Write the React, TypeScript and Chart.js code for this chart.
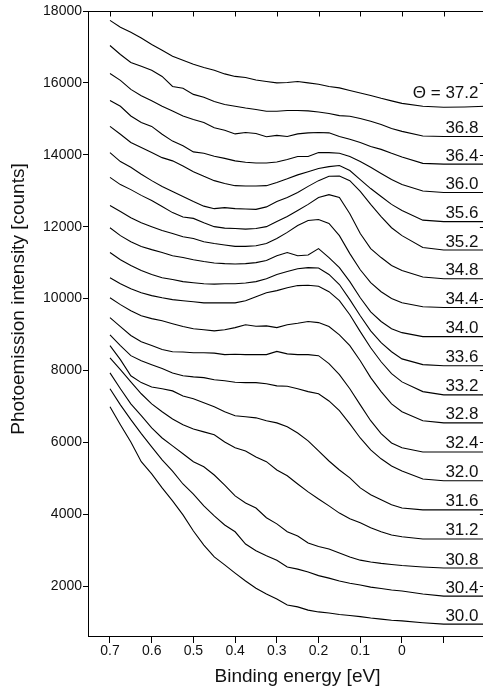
import { useEffect, useRef } from "react";
import { Chart, registerables } from "chart.js";

Chart.register(...registerables);

// Binding energy grid (eV)
const energy = [
  0.7, 0.675, 0.65, 0.625, 0.6, 0.575, 0.55, 0.525, 0.5, 0.475, 0.45, 0.425, 0.4, 0.375, 0.35, 0.325,
  0.3, 0.275, 0.25, 0.225, 0.2, 0.175, 0.15, 0.125, 0.1, 0.075, 0.05, 0.025, 0, -0.05, -0.1, -0.15, -0.2,
];

// Photoemission intensity (counts), one array per emission angle
const theta372 = [17740,17550,17410,17250,17070,16910,16740,16630,16520,16430,16350,16250,16180,16150,16080,16040,16000,16010,16040,16000,15960,15900,15860,15790,15720,15650,15570,15500,15430,15350,15320,15330,15350];
const theta368 = [17040,16790,16570,16460,16350,16180,15900,15850,15680,15600,15480,15400,15350,15300,15260,15210,15210,15230,15230,15220,15190,15150,15090,15070,15010,14930,14840,14730,14650,14520,14510,14510,14510];
const theta364 = [16260,16070,15820,15640,15500,15350,15220,15080,14980,14900,14750,14680,14580,14620,14590,14500,14540,14510,14580,14610,14620,14610,14510,14430,14340,14230,14150,14040,13940,13760,13740,13740,13740];
const theta360 = [15510,15350,15080,14900,14790,14570,14380,14250,14080,14040,13960,13900,13830,13790,13770,13770,13800,13870,13950,13950,14060,14060,14040,13950,13810,13650,13480,13310,13170,12990,12950,12950,12950];
const theta356 = [14790,14570,14340,14200,14060,13920,13830,13690,13530,13400,13280,13200,13140,13130,13130,13140,13230,13330,13440,13530,13620,13670,13700,13560,13310,13060,12840,12620,12450,12180,12140,12140,12140];
const theta352 = [14060,13810,13650,13460,13280,13120,12980,12840,12700,12570,12500,12530,12500,12490,12480,12550,12700,12810,12950,13120,13280,13400,13410,13280,12980,12620,12280,11970,11750,11420,11350,11350,11350];
const theta348 = [13370,13170,13030,12870,12730,12560,12390,12270,12230,12110,12000,11960,11950,11930,11950,12000,12140,12280,12450,12620,12810,12890,12810,12360,11810,11390,11140,10920,10780,10600,10550,10550,10550];
const theta344 = [12590,12420,12250,12110,12000,11890,11810,11720,11670,11580,11530,11490,11450,11450,11470,11530,11670,11840,12030,12170,12200,12090,11750,11250,10800,10440,10190,10000,9880,9770,9750,9750,9750];
const theta340 = [11970,11750,11580,11450,11360,11280,11190,11140,11080,11030,10990,10970,10960,10970,11000,11060,11190,11280,11190,11210,11390,11140,10860,10470,10020,9630,9360,9160,9050,8940,8940,8940,8940];
const theta336 = [11280,11080,10920,10780,10670,10580,10530,10470,10440,10410,10400,10410,10410,10430,10470,10550,10670,10750,10830,10860,10850,10670,10390,9970,9520,9100,8770,8520,8320,8160,8130,8130,8130];
const theta332 = [10580,10410,10270,10160,10080,10020,9970,9940,9910,9880,9880,9880,9880,9940,10050,10160,10220,10300,10360,10370,10340,10190,9940,9550,9080,8630,8240,7910,7680,7410,7320,7320,7320];
const theta328 = [10020,9830,9660,9520,9440,9380,9300,9220,9160,9130,9100,9130,9190,9270,9230,9240,9190,9270,9310,9360,9330,9220,8990,8690,8270,7800,7410,7070,6850,6600,6540,6540,6540];
const theta324 = [9470,9220,8970,8800,8690,8580,8520,8510,8490,8490,8480,8440,8450,8440,8440,8440,8530,8460,8440,8440,8410,8190,7880,7490,7040,6600,6240,5980,5850,5730,5730,5730,5730];
const theta320 = [8990,8690,8410,8270,8160,8050,7930,7850,7820,7800,7740,7710,7670,7660,7660,7630,7570,7560,7490,7410,7350,7150,6880,6510,6120,5790,5540,5340,5200,4980,4930,4930,4930];
const theta316 = [8690,8300,7850,7660,7540,7490,7430,7290,7210,7100,6990,6850,6740,6710,6680,6600,6540,6430,6260,6040,5760,5480,5230,5010,4730,4540,4400,4260,4170,4120,4120,4120,4120];
const theta312 = [8350,8020,7680,7350,7070,6850,6650,6490,6370,6290,6210,6010,5850,5760,5590,5460,5230,5070,4840,4620,4420,4230,4030,3870,3760,3620,3510,3420,3370,3310,3310,3310,3310];
const theta308 = [7930,7490,7070,6740,6400,6120,5900,5680,5460,5320,5090,4810,4510,4310,4170,3900,3730,3510,3390,3200,3100,3030,2920,2810,2720,2670,2630,2600,2570,2530,2500,2500,2500];
const theta304 = [7490,7040,6630,6240,5870,5510,5200,4840,4560,4230,3950,3700,3510,3170,2980,2840,2720,2530,2470,2390,2290,2220,2140,2080,2030,1970,1930,1890,1860,1780,1720,1720,1720];
const theta300 = [6990,6490,6010,5460,5120,4730,4370,3980,3530,3140,2810,2590,2360,2140,1940,1780,1640,1470,1420,1330,1280,1250,1210,1180,1150,1110,1080,1050,1030,980,940,940,940];

const SERIES = [
  theta372, theta368, theta364, theta360, theta356, theta352, theta348, theta344, theta340, theta336,
  theta332, theta328, theta324, theta320, theta316, theta312, theta308, theta304, theta300,
];
const SERIES_LABELS = [
  "\u0398 = 37.2", "36.8", "36.4", "36.0", "35.6", "35.2", "34.8", "34.4", "34.0", "33.6",
  "33.2", "32.8", "32.4", "32.0", "31.6", "31.2", "30.8", "30.4", "30.0",
];

const X_TICKS = [0.7, 0.6, 0.5, 0.4, 0.3, 0.2, 0.1, 0, -0.1];
const X_TICK_LABELS = ["0.7", "0.6", "0.5", "0.4", "0.3", "0.2", "0.1", "0", ""];
const Y_TICKS = [2000, 4000, 6000, 8000, 10000, 12000, 14000, 16000, 18000];
const X_TITLE = "Binding energy [eV]";
const Y_TITLE = "Photoemission intensity [counts]";

const FONT = "'Liberation Sans', Arial, Helvetica, sans-serif";
const INK = "#111";

export default function App() {
  const ref = useRef<HTMLCanvasElement>(null);

  useEffect(() => {
    const canvas = ref.current;
    if (!canvas) return;

    const decor = {
      id: "decor",
      afterDraw(chart: any) {
        const { ctx, chartArea } = chart;
        const xs = chart.scales.x;
        const ys = chart.scales.y;
        const top = Math.round(chartArea.top) + 0.5;
        const right = chartArea.right;
        ctx.save();
        ctx.strokeStyle = "#000";
        ctx.lineWidth = 1;
        // top frame line
        ctx.beginPath();
        ctx.moveTo(chartArea.left, top);
        ctx.lineTo(right, top);
        ctx.stroke();
        // inward ticks on top
        X_TICKS.forEach((v) => {
          const x = Math.round(xs.getPixelForValue(v)) + 0.5;
          ctx.beginPath();
          ctx.moveTo(x, top);
          ctx.lineTo(x, top + 5);
          ctx.stroke();
        });
        // inward ticks on right
        Y_TICKS.forEach((v) => {
          const y = Math.round(ys.getPixelForValue(v)) + 0.5;
          ctx.beginPath();
          ctx.moveTo(right, y);
          ctx.lineTo(right - 5.5, y);
          ctx.stroke();
        });
        // curve labels at the right end of each curve
        ctx.fillStyle = INK;
        ctx.font = `17px ${FONT}`;
        ctx.textAlign = "right";
        ctx.textBaseline = "alphabetic";
        SERIES_LABELS.forEach((lab, i) => {
          const meta = chart.getDatasetMeta(i);
          const pt = meta.data[meta.data.length - 1];
          const off = i === 0 ? 8 : 3.5;
          ctx.fillText(lab, 478.5, pt.y - off);
        });
        // axis titles
        ctx.font = `19px ${FONT}`;
        ctx.textAlign = "center";
        ctx.fillText(X_TITLE, 297.5, 681.5);
        ctx.translate(24, 299);
        ctx.rotate(-Math.PI / 2);
        ctx.fillText(Y_TITLE, 0, 0);
        ctx.restore();
      },
    };

    const chart = new Chart(canvas, {
      type: "line",
      data: {
        datasets: SERIES.map((s, i) => ({
          label: SERIES_LABELS[i],
          data: energy.map((e, j) => ({ x: e, y: s[j] })),
          borderColor: "#000",
          borderWidth: 1.1,
          pointRadius: 0,
          fill: false,
          tension: 0,
        })),
      },
      options: {
        animation: false,
        responsive: false,
        devicePixelRatio: 1,
        layout: { padding: { top: 11, right: 4.6, bottom: 0, left: 0 } },
        plugins: { legend: { display: false }, tooltip: { enabled: false }, title: { display: false } },
        scales: {
          x: {
            type: "linear",
            reverse: true,
            min: -0.2,
            max: 0.7527,
            afterBuildTicks: (scale: any) => {
              scale.ticks = X_TICKS.map((v) => ({ value: v }));
            },
            afterFit: (scale: any) => {
              scale.height = 52;
            },
            ticks: {
              autoSkip: false,
              maxRotation: 0,
              padding: 0,
              color: INK,
              font: { family: FONT, size: 14 },
              callback: (_v: any, i: number) => X_TICK_LABELS[i],
            },
            grid: { drawOnChartArea: false, drawTicks: true, tickLength: 7, color: "#000", tickWidth: 1 },
            border: { display: true, color: "#000", width: 1 },
          },
          y: {
            type: "linear",
            min: 610,
            max: 18000,
            afterBuildTicks: (scale: any) => {
              scale.ticks = Y_TICKS.map((v) => ({ value: v }));
            },
            afterFit: (scale: any) => {
              scale.width = 88;
            },
            ticks: {
              padding: 1,
              color: INK,
              font: { family: FONT, size: 14 },
              callback: (v: any) => String(v),
            },
            grid: { drawOnChartArea: false, drawTicks: true, tickLength: 5, color: "#000", tickWidth: 1 },
            border: { display: true, color: "#000", width: 1 },
          },
        },
      },
      plugins: [decor],
    });

    return () => chart.destroy();
  }, []);

  return (
    <div
      style={{
        position: "fixed",
        left: 0,
        top: 0,
        width: 483,
        height: 688,
        overflow: "hidden",
        background: "#fff",
      }}
    >
      <canvas ref={ref} width={490} height={688} style={{ display: "block", width: 490, height: 688 }} />
    </div>
  );
}
